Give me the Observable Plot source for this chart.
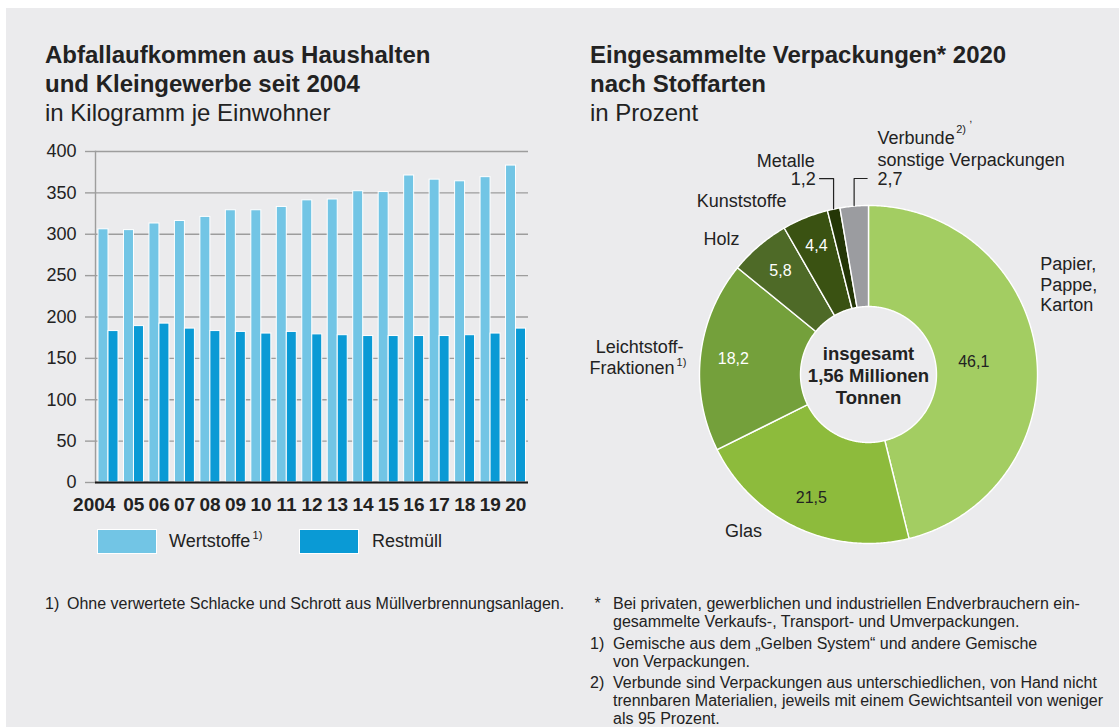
<!DOCTYPE html>
<html><head><meta charset="utf-8">
<script src="https://cdn.jsdelivr.net/npm/d3@7"></script>
<script src="https://cdn.jsdelivr.net/npm/@observablehq/plot@0.6"></script>
<style>
body{margin:0;background:#fff;font-family:"Liberation Sans",Arial,Helvetica,sans-serif;color:#222;width:1119px;height:727px;overflow:hidden;position:relative}
#panel{position:absolute;left:6px;top:8px;width:1113px;height:719px;background:#ebebed}
.abs{position:absolute}
.title{font-size:24px;line-height:29px;white-space:nowrap}
.title b{font-weight:bold}
.leg{font-size:18px;line-height:20px;white-space:nowrap}
.sw{position:absolute;width:60px;height:25px;box-sizing:border-box;border:1px solid #fff}
sup{font-size:11px;vertical-align:0;position:relative;top:-8px}
.fn{font-size:16px;line-height:18px;white-space:nowrap}
.fn .it{position:relative;padding-left:23px;margin-bottom:3.5px}
.fn .it span.m{position:absolute;left:0;top:0}
</style></head>
<body>
<div id="panel"></div>
<div class="abs title" style="left:45px;top:40px"><b>Abfallaufkommen aus Haushalten<br>und Kleingewerbe seit 2004</b><br>in Kilogramm je Einwohner</div>
<div class="abs title" style="left:590px;top:40px"><b>Eingesammelte Verpackungen* 2020<br>nach Stoffarten</b><br>in Prozent</div>
<div id="bars" class="abs" style="left:30px;top:140px"></div>
<div id="donut" class="abs" style="left:580px;top:100px"></div>
<div id="legend"></div>
<div class="abs fn" style="left:45px;top:595px;width:530px"><div class="it" style="padding-left:22px"><span class="m">1)</span>Ohne verwertete Schlacke und Schrott aus Müllverbrennungsanlagen.</div></div>
<div class="abs fn" style="left:590px;top:595px;width:525px">
<div class="it"><span class="m">&nbsp;*</span>Bei privaten, gewerblichen und industriellen Endverbrauchern ein-<br>gesammelte Verkaufs-, Transport- und Umverpackungen.</div>
<div class="it"><span class="m">1)</span>Gemische aus dem „Gelben System“ und andere Gemische<br>von Verpackungen.</div>
<div class="it"><span class="m">2)</span>Verbunde sind Verpackungen aus unterschiedlichen, von Hand nicht<br>trennbaren Materialien, jeweils mit einem Gewichtsanteil von weniger<br>als 95 Prozent.</div>
</div>
<script>
// ---------- data ----------
const years = ["2004","2005","2006","2007","2008","2009","2010","2011","2012","2013","2014","2015","2016","2017","2018","2019","2020"];
const yearLabels = ["2004","05","06","07","08","09","10","11","12","13","14","15","16","17","18","19","20"];
const wertstoffe = [306,305,313,316,321,329,329,333,341,342,352,351,371,366,364,369,383];
const restmuell = [183,189,192,186,183,182,180,182,179,178,177,177,177,177,178,180,186];
const seriesNames = ["Wertstoffe","Restmüll"];
const seriesNotes = ["1)",""];
const yTicks = [0,50,100,150,200,250,300,350,400];

const categories = ["Papier, Pappe, Karton","Glas","Leichtstoff-Fraktionen","Holz","Kunststoffe","Metalle","Verbunde, sonstige Verpackungen"];
const categoryLines = [["Papier,","Pappe,","Karton"],["Glas"],["Leichtstoff-","Fraktionen"],["Holz"],["Kunststoffe"],["Metalle"],["Verbunde","sonstige Verpackungen"]];
const shares = [46.1,21.5,18.2,5.8,4.4,1.2,2.7];
const shareLabels = ["46,1","21,5","18,2","5,8","4,4","1,2","2,7"];
const totalLabel = ["insgesamt","1,56 Millionen","Tonnen"];

// ---------- styles ----------
const FONT = '"Liberation Sans", Arial, Helvetica, sans-serif';
const seriesColors = ["#72c5e5","#0a9ad5"];
const sliceColors = ["#a3cd62","#8dbb3c","#74a03b","#4e6a27","#3a5212","#243606","#9b9ca0"];
const gridColor = "#9d9d9d";

// ---------- bar chart ----------
const W = 520, H = 380, mL = 65, mR = 22, mT = 11, mB = 38;
const bw = (W - mL - mR) / years.length;
const barData = years.flatMap((yr, i) => [
  {year: yr, series: seriesNames[0], value: wertstoffe[i]},
  {year: yr, series: seriesNames[1], value: restmuell[i]}
]);
const fmtYear = d => yearLabels[years.indexOf(d)];
const barChart = Plot.plot({
  width: W, height: H, marginLeft: mL, marginRight: mR, marginTop: mT, marginBottom: mB,
  style: {background: "transparent", fontFamily: FONT, fontSize: "18px", color: "#222", overflow: "visible"},
  x: {type: "band", domain: years, padding: 0, round: false},
  y: {domain: [0, 400]},
  marks: [
    Plot.gridY(yTicks, {stroke: gridColor, strokeOpacity: 1, strokeWidth: 1.4}),
    Plot.axisY(yTicks, {tickSize: 10, tickPadding: 9, stroke: gridColor, strokeWidth: 1.4, fill: "#222", fontSize: 18, label: null}),
    Plot.frame({anchor: "left", stroke: gridColor, strokeWidth: 1.4}),
    Plot.barY(barData.filter(d => d.series === seriesNames[0]), {x: "year", y: "value", fill: seriesColors[0], stroke: "white", strokeWidth: 1, insetLeft: 3, insetRight: bw - 13}),
    Plot.barY(barData.filter(d => d.series === seriesNames[1]), {x: "year", y: "value", fill: seriesColors[1], stroke: "white", strokeWidth: 1, insetLeft: 13, insetRight: bw - 23}),
    Plot.ruleY([0], {stroke: "#1a1a1a", strokeWidth: 2}),
    Plot.axisX([years[0]], {tickSize: 0, tickPadding: 15, dx: -14, fontWeight: "bold", fontSize: 19, fill: "#222", tickFormat: fmtYear, label: null}),
    Plot.axisX(years.slice(1), {tickSize: 0, tickPadding: 15, fontWeight: "bold", fontSize: 19, fill: "#222", tickFormat: fmtYear, label: null})
  ]
});
document.getElementById("bars").appendChild(barChart);

// legend
const legend = document.getElementById("legend");
const legPos = [{sw: 97, tx: 169}, {sw: 299, tx: 372}];
seriesNames.forEach((s, i) => {
  const sw = document.createElement("div");
  sw.className = "sw"; sw.style.left = legPos[i].sw + "px"; sw.style.top = "529px"; sw.style.background = seriesColors[i];
  legend.appendChild(sw);
  const t = document.createElement("div");
  t.className = "abs leg"; t.style.left = legPos[i].tx + "px"; t.style.top = "531px";
  t.innerHTML = s + (seriesNotes[i] ? "<sup>&thinsp;" + seriesNotes[i] + "</sup>" : "");
  legend.appendChild(t);
});

// ---------- donut ----------
const DW = 539, DH = 460;
const R = 169, r0 = 68;
const total = d3.sum(shares);
let acc = 0;
const slices = categories.map((c, i) => {
  const a0 = acc / total * 2 * Math.PI; acc += shares[i];
  const a1 = acc / total * 2 * Math.PI;
  return {i, name: c, a0, a1, am: (a0 + a1) / 2};
});
const pol = (r, a) => [r * Math.sin(a), r * Math.cos(a)];
const arcPoints = slices.flatMap(s => {
  const n = Math.max(2, Math.ceil((s.a1 - s.a0) / (Math.PI / 360)));
  const pts = [];
  for (let k = 0; k <= n; k++) { const [x, y] = pol(R, s.a0 + (s.a1 - s.a0) * k / n); pts.push({name: s.name, x, y}); }
  for (let k = n; k >= 0; k--) { const [x, y] = pol(r0, s.a0 + (s.a1 - s.a0) * k / n); pts.push({name: s.name, x, y}); }
  return pts;
});
// value labels inside the ring (radius, colour = style)
const valueStyle = [{r: 106, fill: "#222"}, {r: 136, fill: "#222"}, {r: 136, fill: "#fff"}, {r: 136, fill: "#fff"}, {r: 139, fill: "#fff"}, null, null];
const valueLabels = slices.filter(s => valueStyle[s.i]).map(s => {
  const [x, y] = pol(valueStyle[s.i].r, s.am);
  return {x, y, text: shareLabels[s.i], fill: valueStyle[s.i].fill};
});
// outer labels: offsets (px) from the slice's outer mid point
const outerLayout = [
  {cat: 0, kind: "lines", dx: 4, dy: 70, anchor: "start"},
  {cat: 1, kind: "line", line: 0, dx: -54, dy: -3, anchor: "middle"},
  {cat: 2, kind: "line", line: 0, dx: -17, dy: 9.5, anchor: "end"},
  {cat: 2, kind: "line", line: 1, dx: -26, dy: -12, anchor: "end"},
  {cat: 2, kind: "note", note: "1)", dx: -24, dy: -6, anchor: "start"},
  {cat: 3, kind: "line", line: 0, dx: -37.5, dy: 7, anchor: "middle"},
  {cat: 4, kind: "line", line: 0, dx: -63.7, dy: 17.3, anchor: "middle"},
  {cat: 5, kind: "line", line: 0, dx: -19, dy: 48.6, anchor: "end"},
  {cat: 5, kind: "value", dx: -18, dy: 30.6, anchor: "end"},
  {cat: 6, kind: "line", line: 0, dx: 23.4, dy: 68.6, anchor: "start"},
  {cat: 6, kind: "note", note: "2)", dx: 102, dy: 77, anchor: "start"},
  {cat: 6, kind: "note", note: ",", dx: 115, dy: 88, anchor: "start"},
  {cat: 6, kind: "line", line: 1, dx: 23.4, dy: 46.6, anchor: "start"},
  {cat: 6, kind: "value", dx: 23.4, dy: 27.6, anchor: "start"}
];
const outerLabels = outerLayout.map(l => {
  const [mx, my] = pol(R, slices[l.cat].am);
  const text = l.kind === "lines" ? categoryLines[l.cat].join("\n")
    : l.kind === "line" ? categoryLines[l.cat][l.line]
    : l.kind === "value" ? shareLabels[l.cat] : l.note;
  return {x: mx + l.dx, y: my + l.dy, text, anchor: l.anchor, size: l.kind === "note" ? 11 : 18};
});
// leader lines for the small slices
const leaderLayout = [{cat: 5, dy: 30.6, dx: -14}, {cat: 6, dy: 27.6, dx: 13}];
const leaderPts = leaderLayout.flatMap(l => {
  const [mx, my] = pol(R + 0.5, slices[l.cat].am);
  const ly = pol(R, slices[l.cat].am)[1] + l.dy;
  return [{k: l.cat, x: mx, y: my}, {k: l.cat, x: mx, y: ly}, {k: l.cat, x: mx + l.dx, y: ly}];
});
const txt = (anchor) => Plot.text(outerLabels.filter(d => d.anchor === anchor), {x: "x", y: "y", text: "text", fontSize: "size", textAnchor: anchor, fill: "#222", lineHeight: 1.14});
const donut = Plot.plot({
  width: DW, height: DH, margin: 0,
  style: {background: "transparent", fontFamily: FONT, color: "#222", overflow: "visible"},
  x: {domain: [-288, 251], axis: null},
  y: {domain: [-186, 274], axis: null},
  color: {domain: categories, range: sliceColors},
  marks: [
    Plot.line(arcPoints, {x: "x", y: "y", z: "name", fill: "name", stroke: "white", strokeWidth: 1.4, curve: "linear-closed"}),
    Plot.text(valueLabels.filter(d => d.fill === "#222"), {x: "x", y: "y", text: "text", fontSize: 16, fill: "#222"}),
    Plot.text(valueLabels.filter(d => d.fill !== "#222"), {x: "x", y: "y", text: "text", fontSize: 16, fill: "#fff"}),
    Plot.line(leaderPts, {x: "x", y: "y", z: "k", stroke: "#222", strokeWidth: 1.2}),
    txt("start"), txt("middle"), txt("end"),
    Plot.text([totalLabel.join("\n")], {x: () => 0, y: () => 0, text: d => d, fontSize: 18.5, fontWeight: "bold", fill: "#222", lineHeight: 1.19})
  ]
});
document.getElementById("donut").appendChild(donut);
</script>
</body></html>
